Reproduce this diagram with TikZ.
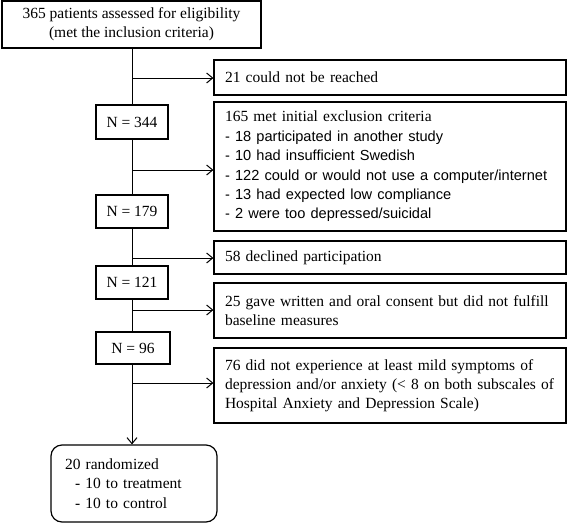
\documentclass[tikz,border=0pt]{standalone}
\usepackage{fontspec}
\setmainfont{Liberation Serif}
\newfontfamily\arialf{Liberation Sans}
\usetikzlibrary{arrows.meta}
\tikzset{
  box/.style={draw, line width=1.2pt, rectangle, inner sep=0pt, font=\fontsize{15.5}{19.2}\selectfont},
  nbox/.style={box, minimum width=72pt, minimum height=34pt, align=center},
  rbox/.style={box, minimum width=352pt, text width=330pt, align=left},
  conn/.style={line width=1pt},
  arr/.style={conn, -{Straight Barb[length=6pt,width=10pt,line width=1pt]}}
}
\begin{document}
\begin{tikzpicture}[x=1pt,y=-1pt]
\useasboundingbox (0,0) rectangle (568,523);
\node[box, minimum width=259pt, minimum height=47pt, align=center] (top) at (131.5,24.5)
  {365 patients assessed for eligibility\\(met the inclusion criteria)};
\node[rbox, minimum height=35pt] (r21) at (390,77.5) {21 could not be reached};
\node[nbox] (n344) at (132,122) {N = 344};
\node[rbox, minimum height=129pt] (excl) at (390,166.5)
  {165 met initial exclusion criteria\\
   {\arialf\fontsize{14.6}{19.4}\selectfont - 18 participated in another study\\
   - 10 had insufficient Swedish\\
   - 122 could or would not use a computer/internet\\
   - 13 had expected low compliance\\
   - 2 were too depressed/suicidal}};
\node[nbox, minimum height=33pt] (n179) at (132,211.5) {N = 179};
\node[rbox, minimum height=33pt] (r58) at (390,257.5) {58 declined participation};
\node[nbox, minimum height=33pt] (n121) at (132,282.5) {N = 121};
\node[rbox, minimum height=55pt] (r25) at (390,310.5)
  {25 gave written and oral consent but did not fulfill\\baseline measures};
\node[nbox, minimum width=74pt, minimum height=32pt] (n96) at (133,348) {N = 96};
\node[rbox, minimum height=75pt] (r76) at (390,385.5)
  {76 did not experience at least mild symptoms of\\depression and/or anxiety (< 8 on both subscales of\\Hospital Anxiety and Depression Scale)};
\node[box, rounded corners=11pt, minimum width=166pt, minimum height=77pt, text width=138pt, align=left] (rand) at (134,483.5)
  {20 randomized\\\hspace*{10pt}- 10 to treatment\\\hspace*{10pt}- 10 to control};
% trunk
\coordinate (b1) at (132,78);
\coordinate (b2) at (132,170);
\coordinate (b3) at (132,258);
\coordinate (b4) at (132,310);
\coordinate (b5) at (132,383);
\draw[conn] (top.south -| b1) -- (n344.north -| b1);
\draw[conn] (n344.south -| b1) -- (n179.north -| b1);
\draw[conn] (n179.south -| b1) -- (n121.north -| b1);
\draw[conn] (n121.south -| b1) -- (n96.north -| b1);
\draw[arr] (n96.south -| b1) -- (rand.north -| b1);
\draw[arr] (b1) -- (b1 -| r21.west);
\draw[arr] (b2) -- (b2 -| excl.west);
\draw[arr] (b3) -- (b3 -| r58.west);
\draw[arr] (b4) -- (b4 -| r25.west);
\draw[arr] (b5) -- (b5 -| r76.west);
\end{tikzpicture}
\end{document}
